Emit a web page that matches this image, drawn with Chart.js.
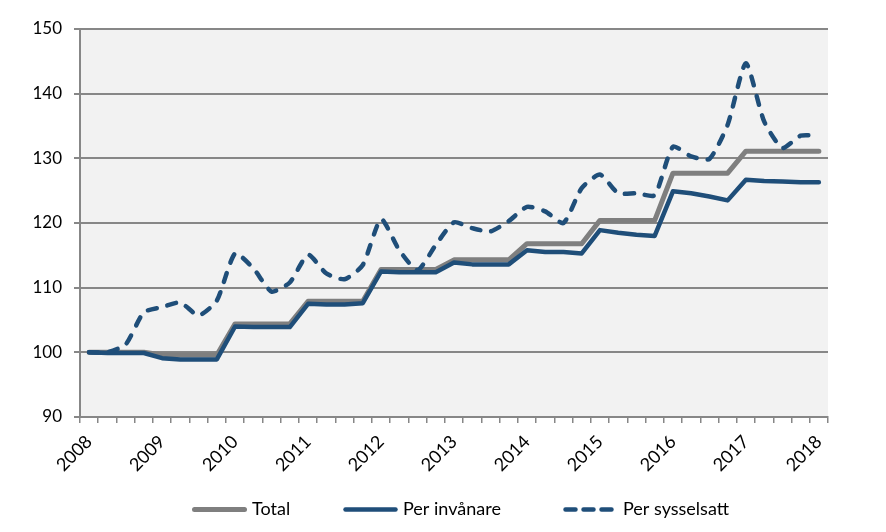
<!DOCTYPE html>
<html>
<head>
<meta charset="utf-8">
<script src="https://cdn.jsdelivr.net/npm/chart.js@4"></script>
<style>
  html, body { margin: 0; padding: 0; background: #ffffff; }
  #wrap { width: 886px; height: 532px; position: relative; }
</style>
</head>
<body>
<div id="wrap"><canvas id="chart"></canvas></div>
<script>
// Index 2008 = 100, quarterly (2008 K1 - 2018 K1)
const years = ['2008', '2009', '2010', '2011', '2012', '2013', '2014', '2015', '2016', '2017', '2018'];

const total = [
    100, 100, 100, 100,
    99.6, 99.6, 99.6, 99.6,
    104.4, 104.4, 104.4, 104.4,
    107.9, 107.9, 107.9, 107.9,
    112.8, 112.8, 112.8, 112.8,
    114.3, 114.3, 114.3, 114.3,
    116.8, 116.8, 116.8, 116.8,
    120.4, 120.4, 120.4, 120.4,
    127.7, 127.7, 127.7, 127.7,
    131.1, 131.1, 131.1, 131.1,
    131.1,
];

const perInvanare = [
    100, 99.9, 99.9, 99.9,
    99.1, 98.9, 98.9, 98.9,
    104.0, 103.9, 103.9, 103.9,
    107.5, 107.4, 107.4, 107.6,
    112.5, 112.4, 112.4, 112.4,
    113.9, 113.6, 113.6, 113.6,
    115.8, 115.5, 115.5, 115.3,
    118.9, 118.5, 118.2, 118.0,
    124.9, 124.6, 124.1, 123.5,
    126.7, 126.5, 126.4, 126.3,
    126.3,
];

const perSysselsatt = [
    100.0, 100.0, 101.2, 106.2,
    107.0, 107.7, 105.7, 108.0,
    115.3, 113.0, 109.4, 110.8,
    115.1, 112.2, 111.3, 113.5,
    120.6, 115.8, 112.7, 116.6,
    120.1, 119.2, 118.7, 120.3,
    122.5, 121.8, 120.0, 125.4,
    127.5, 124.6, 124.6, 124.3,
    131.8, 130.3, 129.9, 135.2,
    144.7, 135.7, 131.6, 133.5,
    133.5,
];

const seriesNames = ['Total', 'Per invånare', 'Per sysselsatt'];
const yTicks = [90, 100, 110, 120, 130, 140, 150];

// one category per quarter, the year is shown on the first quarter
const quarterLabels = [];
years.forEach(function (y, i) {
    quarterLabels.push(y);
    if (i < years.length - 1) quarterLabels.push('', '', '');
});

const colors = {
    gray: '#7f7f7f',
    blue: '#1f4e79',
    grid: '#878787',
    plotBg: '#f2f2f2',
    text: '#000000',
};
const FONT = 'Lato, "Open Sans", sans-serif';

// plot area background
const plotBackground = {
    id: 'plotBackground',
    beforeDraw(chart) {
        const a = chart.chartArea;
        const ctx = chart.ctx;
        ctx.save();
        ctx.fillStyle = colors.plotBg;
        ctx.fillRect(a.left, a.top, a.right - a.left, a.bottom - a.top);
        ctx.restore();
    },
};

// legend below the axis, drawn from the dataset styles
const bottomLegend = {
    id: 'bottomLegend',
    afterDraw(chart) {
        const ctx = chart.ctx;
        const starts = [192, 343, 563];
        const sample = 55, textGap = 5;
        const lineY = 509.5, baseY = 515;
        ctx.save();
        ctx.font = '18px ' + FONT;
        ctx.textBaseline = 'alphabetic';
        chart.data.datasets.forEach(function (ds, i) {
            const x = starts[i];
            ctx.strokeStyle = ds.borderColor;
            ctx.lineWidth = ds.borderWidth;
            ctx.lineCap = ds.borderCapStyle || 'butt';
            ctx.setLineDash(ds.borderDash ? [10, 8] : []);
            ctx.beginPath();
            ctx.moveTo(x + 2.5, lineY);
            ctx.lineTo(x + sample - 2.5, lineY);
            ctx.stroke();
            ctx.setLineDash([]);
            ctx.fillStyle = colors.text;
            ctx.fillText(ds.label, x + sample + textGap, baseY);
        });
        ctx.restore();
    },
};

new Chart(document.getElementById('chart'), {
    type: 'line',
    data: {
        labels: quarterLabels,
        datasets: [
            {
                label: seriesNames[0],
                data: total,
                borderColor: colors.gray,
                backgroundColor: colors.gray,
                borderWidth: 5,
                borderCapStyle: 'round',
                borderJoinStyle: 'round',
                pointRadius: 0,
                tension: 0,
                order: 3,
            },
            {
                label: seriesNames[1],
                data: perInvanare,
                borderColor: colors.blue,
                backgroundColor: colors.blue,
                borderWidth: 4.5,
                borderCapStyle: 'round',
                borderJoinStyle: 'round',
                pointRadius: 0,
                tension: 0,
                order: 2,
            },
            {
                label: seriesNames[2],
                data: perSysselsatt,
                borderColor: colors.blue,
                backgroundColor: colors.blue,
                borderWidth: 4.5,
                borderDash: [9, 11],
                borderCapStyle: 'round',
                borderJoinStyle: 'round',
                pointRadius: 0,
                tension: 0.2,
                order: 1,
            },
        ],
    },
    options: {
        responsive: true,
        maintainAspectRatio: false,
        animation: false,
        layout: {
            padding: { top: 29, right: 58, bottom: 0, left: 0 },
        },
        plugins: {
            legend: { display: false },
            tooltip: { enabled: false },
        },
        scales: {
            x: {
                offset: true,
                afterFit: function (scale) { scale.height = 115; },
                grid: {
                    offset: true,
                    drawOnChartArea: false,
                    drawTicks: true,
                    tickLength: 6,
                    color: colors.grid,
                    lineWidth: 1.5,
                },
                border: { display: true, color: colors.grid, width: 2 },
                ticks: {
                    autoSkip: false,
                    maxRotation: 45,
                    minRotation: 45,
                    padding: 8,
                    color: colors.text,
                    font: { family: FONT, size: 18 },
                },
            },
            y: {
                min: 90,
                max: 150,
                afterFit: function (scale) { scale.width = 80; },
                afterBuildTicks: function (scale) {
                    scale.ticks = yTicks.map((v) => ({ value: v }));
                },
                grid: {
                    color: colors.grid,
                    lineWidth: 2,
                    tickLength: 6,
                },
                border: { display: true, color: colors.grid, width: 2 },
                ticks: {
                    padding: 12,
                    color: colors.text,
                    font: { family: FONT, size: 17 },
                },
            },
        },
    },
    plugins: [plotBackground, bottomLegend],
});
</script>
</body>
</html>
